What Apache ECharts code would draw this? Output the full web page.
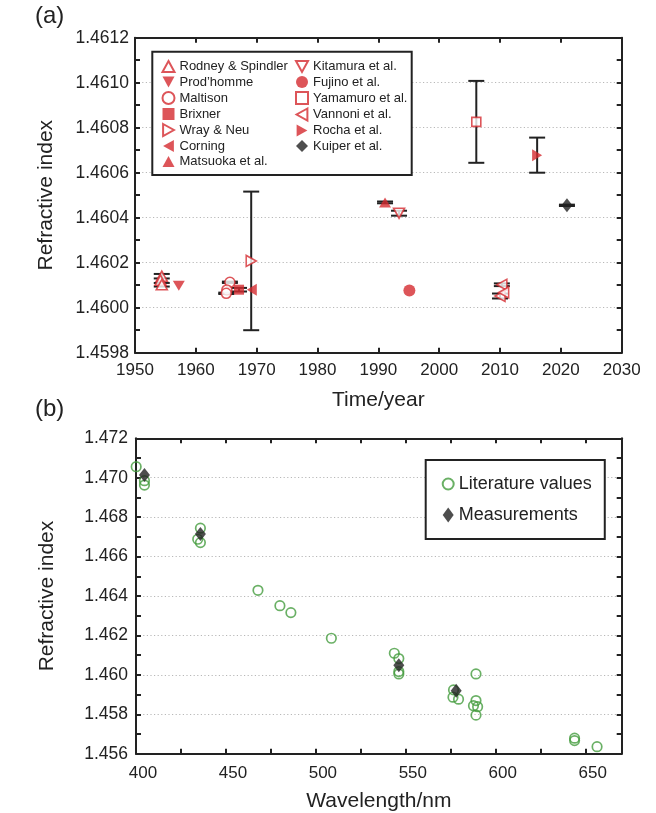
<!DOCTYPE html>
<html>
<head>
<meta charset="utf-8">
<script src="https://cdn.jsdelivr.net/npm/echarts@6/dist/echarts.min.js"></script>
<style>
html,body{margin:0;padding:0;background:#fff;}
#chart{width:656px;height:813px;}
</style>
</head>
<body>
<div id="chart"></div>
<script>
// ---------- Panel (a) data: [year, refractive index, error] ----------
const rodney    = [[1954.4, 1.460140, 0.000010], [1954.2, 1.460122, 0], [1954.4, 1.460102, 0.000008]];
const prodhomme = [[1957.2, 1.460098, 0]];
const maltison  = [[1965.6, 1.460113, 0.000003], [1965.1, 1.460079, 0], [1965.0, 1.460064, 0.000003]];
const brixner   = [[1967.1, 1.460080, 0.000008]];
const wrayNeu   = [[1969.1, 1.460208, 0.000308]];
const corning   = [[1969.2, 1.460080, 0]];
const matsuoka  = [[1991.1, 1.460468, 0.000004]];
const kitamura  = [[1993.4, 1.460420, 0.000011]];
const fujino    = [[1995.1, 1.460076, 0]];
const yamamuro  = [[2006.1, 1.460826, 0.000182]];
const vannoni   = [[2010.3, 1.460102, 0.000006], [2010.0, 1.460052, 0.000011], [2010.6, 1.460068, 0]];
const rocha     = [[2016.1, 1.460678, 0.000078]];
const kuiper    = [[2021.0, 1.460455, 0.000003]];

// ---------- Panel (b) data: [wavelength nm, refractive index] ----------
const literatureValues = [
  [400.1, 1.47056], [404.7, 1.46985], [404.7, 1.46963],
  [435.8, 1.46744], [434.3, 1.46688], [435.8, 1.46671],
  [467.8, 1.46429], [480.0, 1.46351], [486.1, 1.46316], [508.6, 1.46186],
  [543.6, 1.46110], [546.1, 1.46083], [546.1, 1.46017], [546.1, 1.46005],
  [576.5, 1.45924], [576.2, 1.45887], [579.3, 1.45877],
  [589.0, 1.46005], [589.0, 1.45870], [587.6, 1.45844], [589.9, 1.45839], [589.0, 1.45796],
  [643.8, 1.45679], [643.8, 1.45667], [656.3, 1.45636]
];
const measurements = [[404.7, 1.47014], [435.8, 1.46715], [546.1, 1.46049], [578.0, 1.45920]];

// tick labels
const yearTicks = [1950, 1960, 1970, 1980, 1990, 2000, 2010, 2020, 2030];
const wlTicks = [400, 450, 500, 550, 600, 650];

const RED = '#d42a30';
const GREEN = '#459c3f';
const INK = '#222';
const FONT = '"Liberation Sans", Arial, Helvetica, sans-serif';

const TRI_UP = 'path://M5,0 L10,9 L0,9 Z';
const TRI_DOWN = 'path://M0,0 L10,0 L5,9 Z';
const TRI_RIGHT = 'path://M0,0 L9,5 L0,10 Z';
const TRI_LEFT = 'path://M9,0 L0,5 L9,10 Z';

const chart = echarts.init(document.getElementById('chart'), null, {renderer: 'canvas'});

const seriesDefs = [
  {name: 'Rodney & Spindler', data: rodney,    symbol: 'triangle', rot: 0,   icon: TRI_UP,    open: true,  size: [11, 10]},
  {name: 'Prod\u2019homme',   data: prodhomme, symbol: 'triangle', rot: 180, icon: TRI_DOWN,  open: false, size: [12, 10]},
  {name: 'Maltison',          data: maltison,  symbol: 'circle',   rot: 0,   icon: 'circle',  open: true,  size: 10},
  {name: 'Brixner',           data: brixner,   symbol: 'rect',     rot: 0,   icon: 'rect',    open: false, size: 10},
  {name: 'Wray & Neu',        data: wrayNeu,   symbol: 'triangle', rot: -90, icon: TRI_RIGHT, open: true,  size: [11, 10]},
  {name: 'Corning',           data: corning,   symbol: 'triangle', rot: 90,  icon: TRI_LEFT,  open: false, size: [12, 10]},
  {name: 'Matsuoka et al.',   data: matsuoka,  symbol: 'triangle', rot: 0,   icon: TRI_UP,    open: false, size: [12, 10]},
  {name: 'Kitamura et al.',   data: kitamura,  symbol: 'triangle', rot: 180, icon: TRI_DOWN,  open: true,  size: [11, 10]},
  {name: 'Fujino et al.',     data: fujino,    symbol: 'circle',   rot: 0,   icon: 'circle',  open: false, size: 12},
  {name: 'Yamamuro et al.',   data: yamamuro,  symbol: 'rect',     rot: 0,   icon: 'rect',    open: true,  size: 9},
  {name: 'Vannoni et al.',    data: vannoni,   symbol: 'triangle', rot: 90,  icon: TRI_LEFT,  open: true,  size: [11, 10]},
  {name: 'Rocha et al.',      data: rocha,     symbol: 'triangle', rot: -90, icon: TRI_RIGHT, open: false, size: [12, 10]},
  {name: 'Kuiper et al.',     data: kuiper,    symbol: 'diamond',  rot: 0,   icon: 'diamond', open: false, size: [11, 14], color: INK}
];

// error bar data collected from all series
const errData = [];
seriesDefs.forEach(s => s.data.forEach(d => { if (d[2] > 0) errData.push(d); }));

function errRender(params, api) {
  const x = api.value(0), y = api.value(1), e = api.value(2);
  const top = api.coord([x, y + e]);
  const bot = api.coord([x, y - e]);
  const hw = 8;
  const st = {stroke: INK, lineWidth: 2};
  return {
    type: 'group',
    children: [
      {type: 'line', shape: {x1: top[0], y1: top[1], x2: bot[0], y2: bot[1]}, style: st},
      {type: 'line', shape: {x1: top[0] - hw, y1: top[1], x2: top[0] + hw, y2: top[1]}, style: st},
      {type: 'line', shape: {x1: bot[0] - hw, y1: bot[1], x2: bot[0] + hw, y2: bot[1]}, style: st}
    ]
  };
}

const tickStyle = {color: INK, width: 2};
function mkAxis(extra) {
  const base = {
    axisLine: {show: true, onZero: false, lineStyle: {color: INK, width: 2}},
    axisTick: {show: true, inside: true, length: 5, lineStyle: tickStyle},
    splitLine: {show: false}
  };
  return Object.assign(base, extra);
}
const gridLine = {show: true, lineStyle: {color: '#b8b8b8', width: 1, type: [1.2, 2.4]}};

const series = [];
series.push({
  type: 'custom', name: 'errbars', xAxisIndex: 0, yAxisIndex: 0,
  renderItem: errRender, data: errData, z: 1, silent: true,
  encode: {x: 0, y: [1]}
});
seriesDefs.forEach(s => {
  const c = s.color || RED;
  series.push({
    type: 'scatter', name: s.name, xAxisIndex: 0, yAxisIndex: 0,
    data: s.data.map(d => [d[0], d[1]]),
    symbol: s.symbol, symbolRotate: s.rot, symbolSize: s.size, z: 3,
    itemStyle: s.open ? {color: '#fff', borderColor: c, borderWidth: 1.6} : {color: c, borderWidth: 0}
  });
});
series.push({
  type: 'scatter', name: 'Literature values', xAxisIndex: 2, yAxisIndex: 2,
  data: literatureValues, symbol: 'circle', symbolSize: 9.5, z: 3,
  itemStyle: {color: 'rgba(255,255,255,0)', borderColor: GREEN, borderWidth: 1.7}
});
series.push({
  type: 'scatter', name: 'Measurements', xAxisIndex: 2, yAxisIndex: 2,
  data: measurements, symbol: 'diamond', symbolSize: [11, 14], z: 4,
  itemStyle: {color: INK}
});

const legendText = {color: INK, fontFamily: FONT, fontSize: 13};
const legendItems = seriesDefs.map(s => ({name: s.name, icon: s.icon}));

const option = {
  backgroundColor: '#fff',
  animation: false,
  textStyle: {fontFamily: FONT},
  grid: [
    {left: 135, top: 37.7, width: 486.7, height: 315, containLabel: false},
    {left: 136, top: 438.3, width: 485.7, height: 315.5, containLabel: false}
  ],
  graphic: [
    {type: 'text', left: 35, top: 4, style: {text: '(a)', font: '24px ' + FONT, fill: INK}},
    {type: 'text', left: 35, top: 397, style: {text: '(b)', font: '24px ' + FONT, fill: INK}},
    {type: 'rect', z: 10, shape: {x: 152.3, y: 51.7, width: 259.4, height: 123.3},
     style: {fill: '#fff', stroke: INK, lineWidth: 2}}
  ],
  legend: [
    {data: legendItems.slice(0, 7), orient: 'vertical', left: 161.5, top: 60, padding: 0, itemGap: 2.5,
     itemWidth: 12, itemHeight: 12, textStyle: legendText, selectedMode: false, z: 20},
    {data: legendItems.slice(7), orient: 'vertical', left: 295, top: 60, padding: 0, itemGap: 2.5,
     itemWidth: 12, itemHeight: 12, textStyle: legendText, selectedMode: false, z: 20},
    {data: ['Literature values', 'Measurements'], orient: 'vertical', left: 425.7, top: 460,
     padding: [15, 13, 15, 16], itemGap: 13, itemWidth: 11, itemHeight: 15,
     backgroundColor: '#fff', borderColor: INK, borderWidth: 2,
     textStyle: {color: INK, fontFamily: FONT, fontSize: 18}, selectedMode: false, z: 20}
  ],
  xAxis: [
    mkAxis({gridIndex: 0, type: 'value', position: 'bottom', min: yearTicks[0], max: yearTicks[yearTicks.length - 1], interval: 10,
      name: 'Time/year', nameLocation: 'middle', nameGap: 37,
      nameTextStyle: {fontSize: 21, color: INK, fontFamily: FONT},
      axisLabel: {show: true, margin: 9, fontSize: 17, color: INK, fontFamily: FONT,
        formatter: v => String(v)}}),
    mkAxis({gridIndex: 0, type: 'value', position: 'top', min: yearTicks[0], max: yearTicks[yearTicks.length - 1], interval: 10,
      axisLabel: {show: false}}),
    mkAxis({gridIndex: 1, type: 'value', position: 'bottom', min: wlTicks[0], max: 670, interval: 25,
      name: 'Wavelength/nm', nameLocation: 'middle', nameGap: 37,
      nameTextStyle: {fontSize: 21, color: INK, fontFamily: FONT},
      axisLabel: {show: true, margin: 11, fontSize: 17, color: INK, fontFamily: FONT, padding: [0, 0, 0, 14],
        formatter: v => (wlTicks.indexOf(v) >= 0 ? String(v) : '')}}),
    mkAxis({gridIndex: 1, type: 'value', position: 'top', min: wlTicks[0], max: 670, interval: 25,
      axisLabel: {show: false}})
  ],
  yAxis: [
    mkAxis({gridIndex: 0, type: 'value', position: 'left', min: 1.4598, max: 1.4612, interval: 0.0002,
      name: 'Refractive index', nameLocation: 'middle', nameGap: 78,
      nameTextStyle: {fontSize: 21, color: INK, fontFamily: FONT},
      axisLabel: {show: true, margin: 6, fontSize: 17.5, color: INK, fontFamily: FONT, formatter: v => v.toFixed(4)},
      minorTick: {show: true, splitNumber: 2, length: 5, lineStyle: tickStyle},
      splitLine: gridLine}),
    mkAxis({gridIndex: 0, type: 'value', position: 'right', min: 1.4598, max: 1.4612, interval: 0.0002,
      axisLabel: {show: false},
      minorTick: {show: true, splitNumber: 2, length: 5, lineStyle: tickStyle}}),
    mkAxis({gridIndex: 1, type: 'value', position: 'left', min: 1.456, max: 1.472, interval: 0.002,
      name: 'Refractive index', nameLocation: 'middle', nameGap: 78,
      nameTextStyle: {fontSize: 21, color: INK, fontFamily: FONT},
      axisLabel: {show: true, margin: 8, fontSize: 17.5, color: INK, fontFamily: FONT, formatter: v => v.toFixed(3)},
      minorTick: {show: true, splitNumber: 2, length: 5, lineStyle: tickStyle},
      splitLine: gridLine}),
    mkAxis({gridIndex: 1, type: 'value', position: 'right', min: 1.456, max: 1.472, interval: 0.002,
      axisLabel: {show: false},
      minorTick: {show: true, splitNumber: 2, length: 5, lineStyle: tickStyle}})
  ],
  series: series
};

chart.setOption(option);
</script>
</body>
</html>
